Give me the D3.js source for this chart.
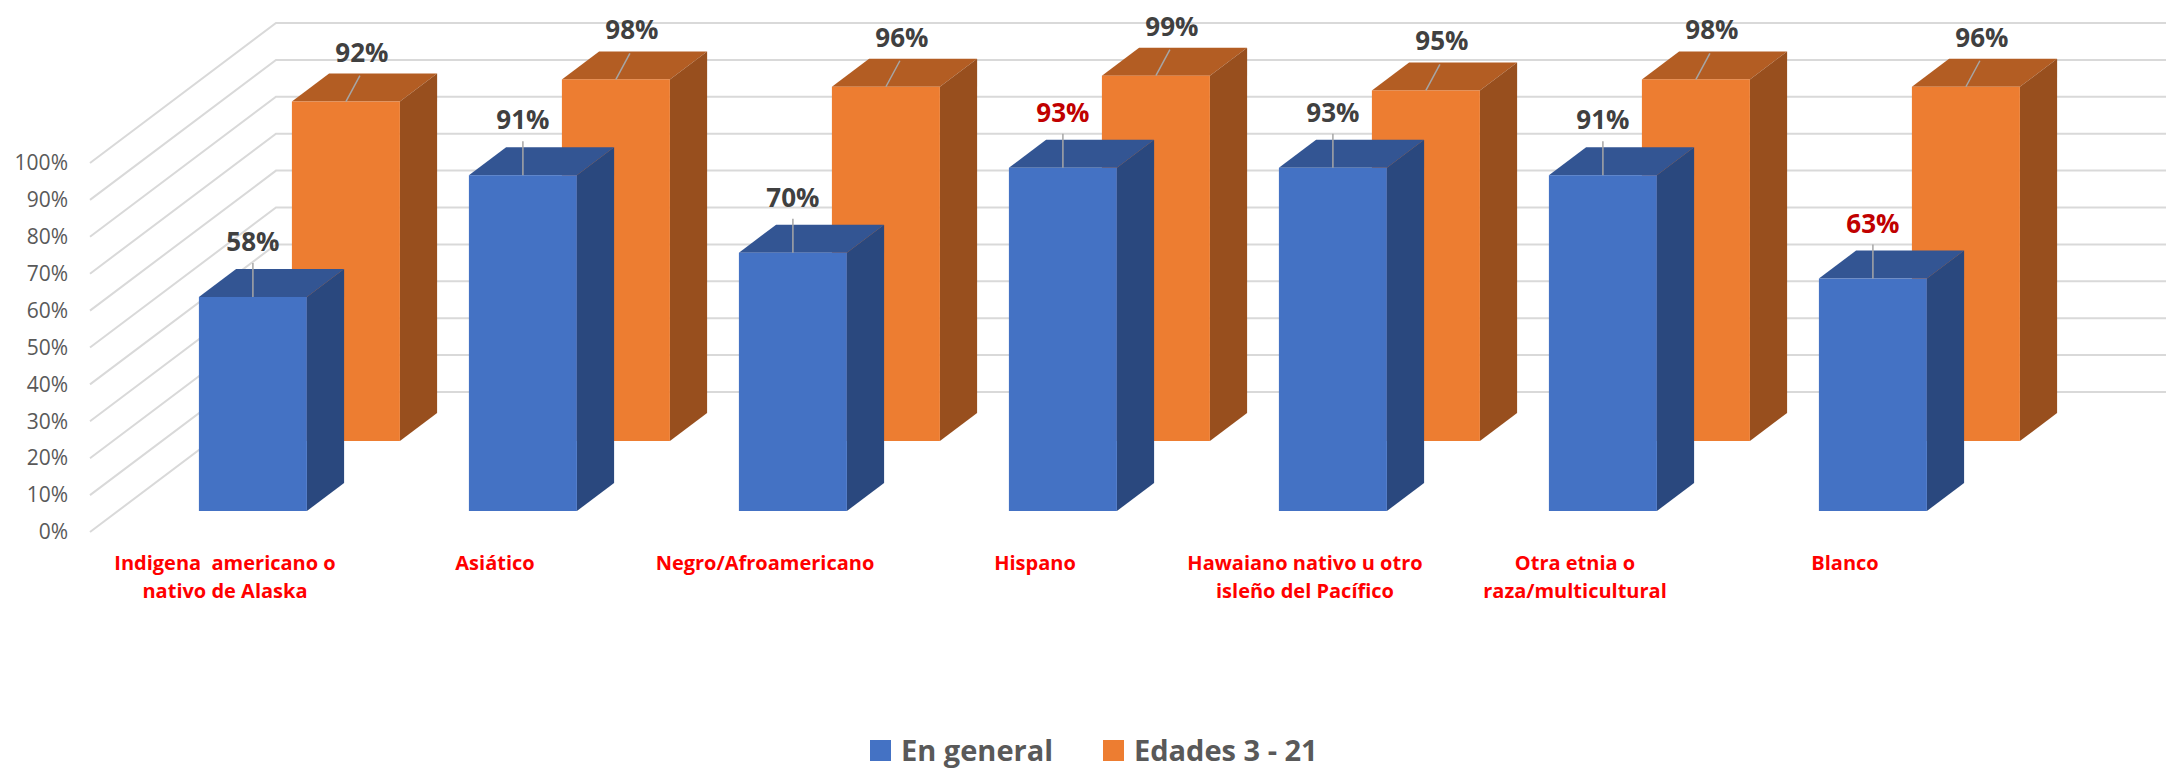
<!DOCTYPE html>
<html>
<head>
<meta charset="utf-8">
<script src="https://cdn.jsdelivr.net/npm/d3@7"></script>
<style>
  body { margin: 0; background: #fff; }
  svg { display: block; font-family: "Open Sans", "Noto Sans", sans-serif; }
</style>
</head>
<body>
<svg id="chart"></svg>
<script>
// data
const categories = [
  "Indigena  americano o\nnativo de Alaska",
  "Asiático",
  "Negro/Afroamericano",
  "Hispano",
  "Hawaiano nativo u otro\nisleño del Pacífico",
  "Otra etnia o\nraza/multicultural",
  "Blanco"
];
const seriesNames = ["En general", "Edades 3 - 21"];
const enGeneral = [58, 91, 70, 93, 93, 91, 63];
const edades3a21 = [92, 98, 96, 99, 95, 98, 96];
const yTicks = [0, 10, 20, 30, 40, 50, 60, 70, 80, 90, 100];
// categories whose "En general" value label is printed in red
const redLabels = ["Hispano", "Blanco"];

const config = {
  width: 2168,
  height: 771,
  depthX: 186, // screen shift of the full floor depth
  depthY: 140,
  colors: {
    "En general": { front: "#4472c4", top: "#335593", side: "#2a487e" },
    "Edades 3 - 21": { front: "#ed7d31", top: "#b35d23", side: "#984f1e" }
  }
};

const values = { "En general": enGeneral, "Edades 3 - 21": edades3a21 };
const rows = [];
seriesNames.forEach(s => {
  categories.forEach((c, i) => rows.push({ cat: c, series: s, value: values[s][i] }));
});

const svg = d3.select("#chart")
  .attr("width", config.width)
  .attr("height", config.height)
  .attr("viewBox", [0, 0, config.width, config.height]);

// scales: x along the front plane, z = depth (0 front, 1 back wall)
const xScale = d3.scaleBand()
  .domain(categories)
  .range([90, 1980])
  .paddingInner(0.6)
  .paddingOuter(0.3);
const zScale = d3.scaleBand()
  .domain(seriesNames)
  .range([0, 1])
  .paddingInner(0.6)
  .paddingOuter(0.3);
const yScale = d3.scaleLinear()
  .domain([0, 100])
  .range([532, 163]);

const proj = (x, z, v) => [x + z * config.depthX, yScale(v) - z * config.depthY];
const pts = arr => arr.map(p => p.join(",")).join(" ");

// walls: diagonal lines on the side wall, horizontal on the back wall
const xLeft = xScale.range()[0], xRight = xScale.range()[1];
svg.append("g")
  .attr("class", "grid")
  .selectAll("polyline")
  .data(yTicks)
  .join("polyline")
  .attr("points", d => pts([proj(xLeft, 0, d), proj(xLeft, 1, d), proj(xRight, 1, d)]))
  .attr("fill", "none")
  .attr("stroke", "#d9d9d9")
  .attr("stroke-width", 2);

// y axis labels at the front edge of the side wall
const yAxis = d3.axisLeft(yScale)
  .tickValues(yTicks)
  .tickSize(0)
  .tickPadding(22)
  .tickFormat(d => d + "%");
const yG = svg.append("g")
  .attr("class", "y-axis")
  .attr("transform", `translate(${xLeft},0)`)
  .call(yAxis);
yG.select(".domain").remove();
yG.selectAll("text")
  .attr("fill", "#595959")
  .style("font-size", "21px")
  .style("font-family", "'Open Sans', sans-serif");

// bars, back row first so the front row covers it
const bw = xScale.bandwidth(), zw = zScale.bandwidth();
const barGroups = svg.append("g")
  .attr("class", "bars")
  .selectAll("g")
  .data(rows.slice().sort((a, b) => zScale(b.series) - zScale(a.series)))
  .join("g")
  .attr("class", d => "bar " + (d.series === "En general" ? "general" : "edades"));

barGroups.append("polygon")
  .attr("points", d => {
    const x0 = xScale(d.cat), z0 = zScale(d.series);
    return pts([proj(x0, z0, d.value), proj(x0 + bw, z0, d.value), proj(x0 + bw, z0 + zw, d.value), proj(x0, z0 + zw, d.value)]);
  })
  .attr("fill", d => config.colors[d.series].top);

barGroups.append("polygon")
  .attr("points", d => {
    const x1 = xScale(d.cat) + bw, z0 = zScale(d.series);
    return pts([proj(x1, z0, d.value), proj(x1, z0 + zw, d.value), proj(x1, z0 + zw, 0), proj(x1, z0, 0)]);
  })
  .attr("fill", d => config.colors[d.series].side);

barGroups.append("rect")
  .attr("x", d => proj(xScale(d.cat), zScale(d.series), d.value)[0])
  .attr("y", d => proj(xScale(d.cat), zScale(d.series), d.value)[1])
  .attr("width", bw)
  .attr("height", d => yScale(0) - yScale(d.value))
  .attr("fill", d => config.colors[d.series].front);

// value labels with leader lines
const labelPos = d => {
  const [fx, fy] = proj(xScale(d.cat) + bw / 2, zScale(d.series), d.value);
  if (d.series === "En general") {
    return { line: [[fx, fy], [fx, fy - 34]], x: fx, y: fy - 46 };
  }
  return { line: [[fx, fy], [fx + 14, fy - 26]], x: fx + 16, y: fy - 40 };
};

const labels = svg.append("g").attr("class", "value-labels");
labels.selectAll("line")
  .data(rows)
  .join("line")
  .attr("x1", d => labelPos(d).line[0][0])
  .attr("y1", d => labelPos(d).line[0][1])
  .attr("x2", d => labelPos(d).line[1][0])
  .attr("y2", d => labelPos(d).line[1][1])
  .attr("stroke", "#a6a6a6")
  .attr("stroke-width", 1.5);
labels.selectAll("text")
  .data(rows)
  .join("text")
  .attr("x", d => labelPos(d).x)
  .attr("y", d => labelPos(d).y)
  .attr("text-anchor", "middle")
  .attr("fill", d => d.series === "En general" && redLabels.includes(d.cat) ? "#c00000" : "#404040")
  .style("font-size", "26px")
  .style("font-weight", "bold")
  .text(d => d.value + "%");

// category labels under the floor
const catG = svg.append("g")
  .attr("class", "x-labels")
  .selectAll("text")
  .data(categories)
  .join("text")
  .attr("x", d => xScale(d) + bw / 2)
  .attr("y", 570)
  .attr("text-anchor", "middle")
  .attr("fill", "#ff0000")
  .style("font-size", "20px")
  .style("font-weight", "bold")
  .style("white-space", "pre");
catG.selectAll("tspan")
  .data(d => d.split("\n").map(t => ({ t, x: xScale(d) + bw / 2 })))
  .join("tspan")
  .attr("x", d => d.x)
  .attr("dy", (d, i) => i === 0 ? 0 : 28)
  .text(d => d.t);

// legend
const legendX = [870, 1103];
const legend = svg.append("g")
  .attr("class", "legend")
  .selectAll("g")
  .data(seriesNames)
  .join("g")
  .attr("transform", (d, i) => `translate(${legendX[i]},740)`);
legend.append("rect")
  .attr("width", 21)
  .attr("height", 21)
  .attr("fill", d => config.colors[d].front);
legend.append("text")
  .attr("x", 31)
  .attr("y", 21)
  .attr("fill", "#595959")
  .style("font-size", "29px")
  .style("font-weight", "bold")
  .text(d => d);
</script>
</body>
</html>
